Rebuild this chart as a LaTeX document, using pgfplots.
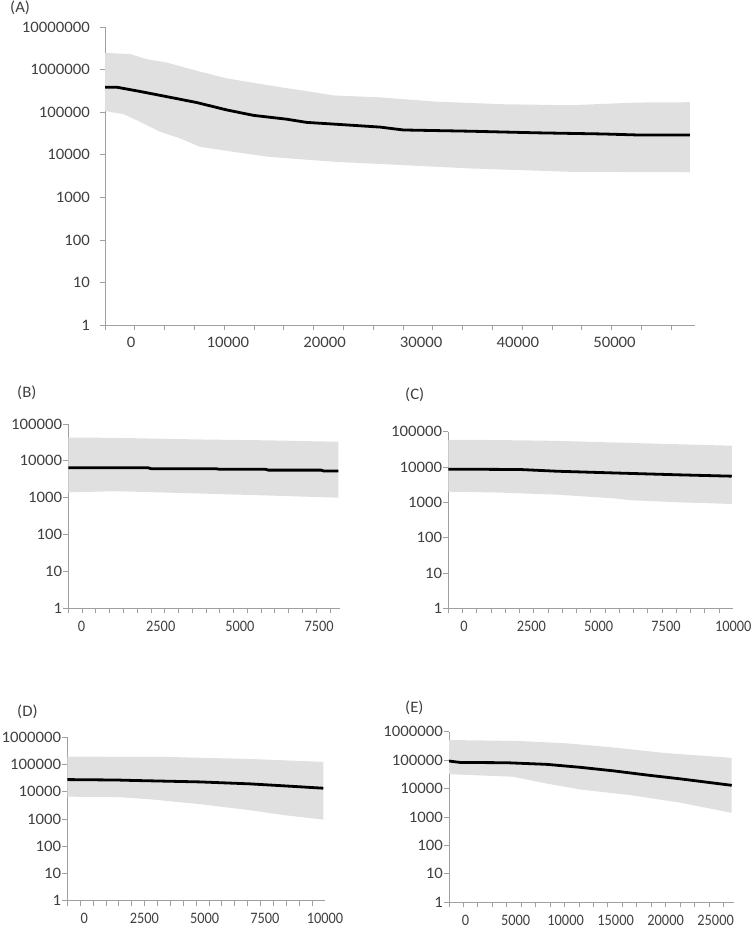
\documentclass[border=0pt]{standalone}
\usepackage{fontspec}
\setmainfont{Carlito}[FakeStretch=1.05]
\newfontfamily\narrowf{Carlito}[FakeStretch=0.9]
\usepackage{pgfplots}
\pgfplotsset{compat=1.18}
\definecolor{axgray}{RGB}{160,160,160}
\definecolor{band}{RGB}{224,224,224}
\definecolor{txt}{RGB}{64,64,64}
\pgfplotsset{
  mypanel/.style={
    scale only axis, ymin=1,
    axis x line*=bottom, axis y line*=left,
    axis line style={draw=axgray, line width=0.8bp, -},
    tick align=outside,
    major tick length=5bp, minor tick length=5bp,
    every major x tick/.append style={draw=none},
    every minor x tick/.append style={draw=axgray, line width=0.8bp},
    every major y tick/.append style={draw=axgray, line width=0.8bp},
    yminorticks=false, scaled x ticks=false,
    tick label style={font=\fontsize{16}{18}\selectfont, text=txt},
    yticklabel style={inner xsep=1bp},
    xticklabel style={yshift=-4bp},
  },
  lowpanel/.style={mypanel, xticklabel style={font=\narrowf\fontsize{16}{18}\selectfont}},
  meanline/.style={black, line width=2.8bp},
  bandfill/.style={fill=band, draw=none},
}
\begin{document}
\begin{tikzpicture}[x=1bp,y=1bp]
\path[use as bounding box] (0,0) rectangle (755,928);
\tikzset{plab/.style={font=\fontsize{16}{18}\selectfont, text=txt, anchor=west, inner sep=0pt}}
% (A)
\begin{semilogyaxis}[mypanel, at={(105bp,603bp)}, anchor=south west, width=590bp, height=297.7bp,
  xmin=-2710, xmax=58330, ymax=1e7,
  xtick={0,10000,20000,30000,40000,50000}, xticklabels={0,10000,20000,30000,40000,50000},
  minor xtick={-2710,373,...,55900},
  ytick={1,10,100,1000,10000,100000,1000000,10000000},
  yticklabels={1,10,100,1000,10000,100000,1000000,10000000},
  yticklabel style={xshift=-9bp}]
\addplot[bandfill] coordinates {(-2710,2.5e6)(-124,2.35e6)(1604,1.78e6)(3673,1.48e6)(6776,9.5e5)(9880,6.3e5)(12984,4.8e5)(16087,3.7e5)(19191,2.9e5)(20909,2.5e5)(25740,2.25e5)(31605,1.78e5)(38496,1.55e5)(45396,1.47e5)(52297,1.7e5)(57810,1.73e5)
 (57810,3.9e3)(45396,4.0e3)(35050,4.8e3)(25740,6.1e3)(20909,6.9e3)(17463,7.9e3)(14018,9.1e3)(10563,1.18e4)(7118,1.55e4)(5049,2.45e4)(2980,3.5e4)(910,6.0e4)(-817,9.1e4)(-2710,1.07e5)} -- cycle;
\addplot[meanline] coordinates {(-2710,3.9e5)(-1500,3.9e5)(910,3.1e5)(3673,2.34e5)(6776,1.7e5)(9880,1.14e5)(12632,8.5e4)(16087,6.9e4)(18157,5.8e4)(20909,5.3e4)(25740,4.5e4)(28150,3.85e4)(35050,3.6e4)(41950,3.3e4)(48841,3.1e4)(52297,2.94e4)(57810,2.94e4)};
\end{semilogyaxis}
% (B)
\begin{semilogyaxis}[lowpanel, at={(68.3bp,319.7bp)}, anchor=south west, width=271.7bp, height=184.3bp,
  xmin=-417, xmax=8157, ymax=1e5,
  xtick={0,2500,5000,7500}, xticklabels={0,2500,5000,7500},
  minor xtick={-417,17.5,...,7900},
  ytick={1,10,100,1000,10000,100000}, yticklabels={1,10,100,1000,10000,100000}]
\addplot[bandfill] coordinates {(-417,4.3e4)(1111,4.2e4)(3739,3.8e4)(5844,3.6e4)(8104,3.3e4)
 (8104,1.0e3)(5844,1.15e3)(3739,1.3e3)(1111,1.5e3)(-417,1.4e3)} -- cycle;
\addplot[meanline] coordinates {(-417,6500)(2100,6500)(2200,6100)(4250,6100)(4350,5900)(5800,5900)(5900,5600)(7550,5600)(7650,5300)(8104,5300)};
\end{semilogyaxis}
% (C)
\begin{semilogyaxis}[lowpanel, at={(448.3bp,319.7bp)}, anchor=south west, width=285bp, height=176.6bp,
  xmin=-587, xmax=10000, ymax=1e5,
  xtick={0,2500,5000,7500,10000}, xticklabels={0,2500,5000,7500,10000},
  minor xtick={-587,-57.6,...,9500},
  ytick={1,10,100,1000,10000,100000}, yticklabels={1,10,100,1000,10000,100000}]
\addplot[bandfill] coordinates {(-587,5.9e4)(1211,5.8e4)(3440,5.5e4)(6163,4.8e4)(7987,4.4e4)(9942,4.0e4)
 (9942,900)(7987,1.0e3)(6163,1.15e3)(5543,1.3e3)(3440,1.65e3)(1211,1.9e3)(-587,2.0e3)} -- cycle;
\addplot[meanline] coordinates {(-587,8.7e3)(2077,8.5e3)(3440,7.6e3)(5543,6.8e3)(7987,6.0e3)(9942,5.5e3)};
\end{semilogyaxis}
% (D)
\begin{semilogyaxis}[lowpanel, at={(67.3bp,27.3bp)}, anchor=south west, width=257.7bp, height=163.4bp,
  xmin=-700, xmax=10000, ymax=1e6,
  xtick={0,2500,5000,7500,10000}, xticklabels={0,2500,5000,7500,10000},
  minor xtick={-700,-165.2,...,9500},
  ytick={1,10,100,1000,10000,100000,1000000}, yticklabels={1,10,100,1000,10000,100000,1000000}]
\addplot[bandfill] coordinates {(-700,1.95e5)(3427,1.9e5)(6886,1.6e5)(9929,1.25e5)
 (9929,950)(8269,1.4e3)(6886,2.1e3)(4810,3.5e3)(2734,5.3e3)(1351,6.4e3)(-700,6.6e3)} -- cycle;
\addplot[meanline] coordinates {(-700,2.8e4)(1351,2.7e4)(2041,2.6e4)(4810,2.3e4)(6886,1.95e4)(8545,1.6e4)(9929,1.35e4)};
\end{semilogyaxis}
% (E)
\begin{semilogyaxis}[lowpanel, at={(449bp,25.7bp)}, anchor=south west, width=285bp, height=170.6bp,
  xmin=-1660, xmax=26840, ymax=1e6,
  xtick={0,5000,10000,15000,20000,25000}, xticklabels={0,5000,10000,15000,20000,25000},
  minor xtick={-1660,-216,...,25800},
  ytick={1,10,100,1000,10000,100000,1000000}, yticklabels={1,10,100,1000,10000,100000,1000000}]
\addplot[bandfill] coordinates {(-1660,5.1e5)(5440,4.7e5)(10110,3.9e5)(14770,2.8e5)(19770,1.8e5)(26610,1.2e5)
 (26610,1.4e3)(21440,3.2e3)(16440,5.9e3)(11440,9.3e3)(8110,1.5e4)(4770,2.6e4)(-1660,3.2e4)} -- cycle;
\addplot[meanline] coordinates {(-1660,9.3e4)(-560,8.3e4)(4110,8.1e4)(8110,7.1e4)(11440,5.6e4)(14770,4.2e4)(18110,3.0e4)(21440,2.2e4)(26610,1.3e4)};
\end{semilogyaxis}
\node[plab] at (10,920) {(A)};
\node[plab] at (17,535) {(B)};
\node[plab] at (405,533) {(C)};
\node[plab] at (17,216) {(D)};
\node[plab] at (405,220) {(E)};
\end{tikzpicture}
\end{document}
